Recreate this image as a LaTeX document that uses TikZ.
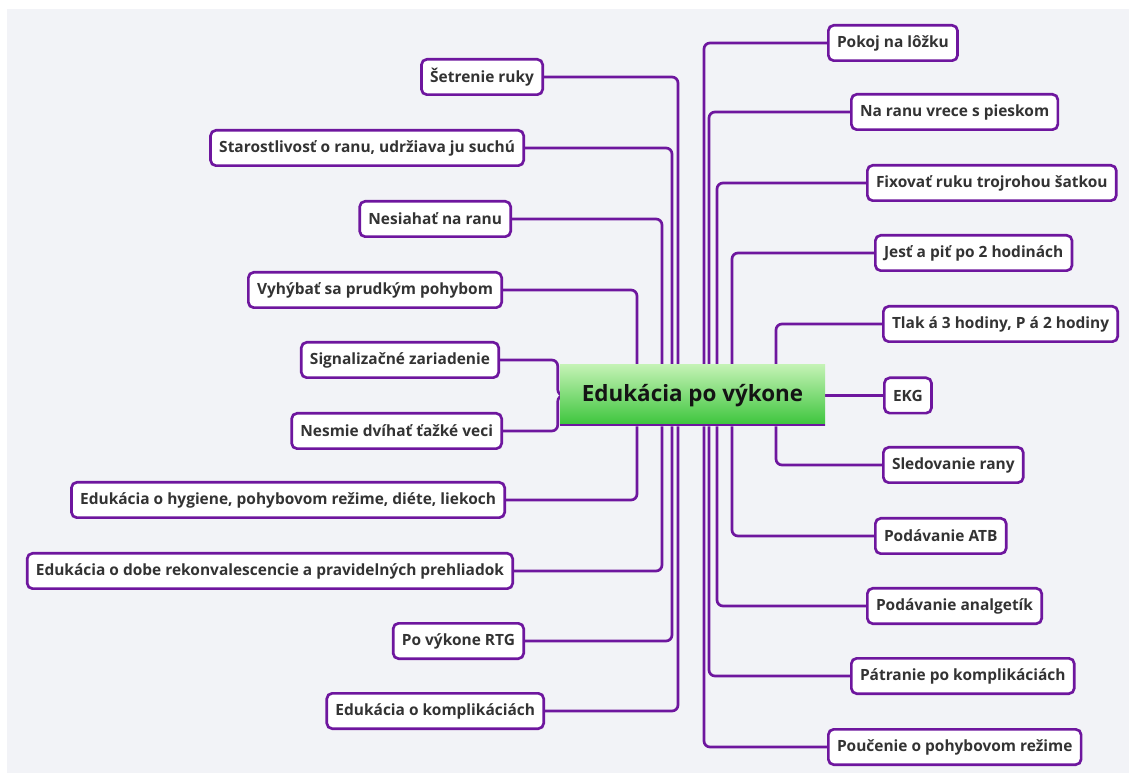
\documentclass[tikz,border=0pt]{standalone}
\usepackage{fontspec}
\setmainfont{Open Sans}
\usetikzlibrary{backgrounds,calc,positioning}
\definecolor{mmpurple}{RGB}{110,22,158}
\definecolor{mmgray}{RGB}{242,243,247}
\definecolor{mmtext}{RGB}{51,51,51}
\definecolor{mmgreentop}{RGB}{195,242,180}
\definecolor{mmgreenbot}{RGB}{58,196,58}

\begin{document}
\begin{tikzpicture}[x=0.75pt,y=-0.75pt,
	topic/.style={draw=mmpurple,line width=2pt,fill=white,rounded corners=4pt,minimum height=26.5pt,inner xsep=6.5pt,text=mmtext,font=\fontsize{11.6}{13}\selectfont\bfseries},
	root/.style={top color=mmgreentop,bottom color=mmgreenbot,minimum width=198.75pt,minimum height=45.75pt,text=black!92,font=\fontsize{16.8}{20}\selectfont\bfseries,
		path picture={\draw[mmpurple,line width=3pt] (path picture bounding box.south west) -- (path picture bounding box.south east);}},
	link/.style={draw=mmpurple,line width=2pt,rounded corners=4.5pt}]
	\useasboundingbox (0,0) rectangle (1129,773);

	\node[root] (root) at (692.5,395.5) {Edukácia po výkone};

	\node[topic,anchor=east] (l1) at (544,77) {Šetrenie ruky};
	\node[topic,anchor=east] (l2) at (525,148) {Starostlivosť o ranu, udržiava ju suchú};
	\node[topic,anchor=east] (l3) at (512,219) {Nesiahať na ranu};
	\node[topic,anchor=east] (l4) at (503,290) {Vyhýbať sa prudkým pohybom};
	\node[topic,anchor=east] (l5) at (500,360) {Signalizačné zariadenie};
	\node[topic,anchor=east] (l6) at (503,431) {Nesmie dvíhať ťažké veci};
	\node[topic,anchor=east] (l7) at (506,500) {Edukácia o hygiene, pohybovom režime, diéte, liekoch};
	\node[topic,anchor=east] (l8) at (514,571) {Edukácia o dobe rekonvalescencie a pravidelných prehliadok};
	\node[topic,anchor=east] (l9) at (525,641) {Po výkone RTG};
	\node[topic,anchor=east] (l10) at (545,711) {Edukácia o komplikáciách};

	\node[topic,anchor=west] (r1) at (827,43) {Pokoj na lôžku};
	\node[topic,anchor=west] (r2) at (850,112) {Na ranu vrece s pieskom};
	\node[topic,anchor=west] (r3) at (866,183) {Fixovať ruku trojrohou šatkou};
	\node[topic,anchor=west] (r4) at (874,253) {Jesť a piť po 2 hodinách};
	\node[topic,anchor=west] (r5) at (882,324) {Tlak á 3 hodiny, P á 2 hodiny};
	\node[topic,anchor=west] (r6) at (883,395.5) {EKG};
	\node[topic,anchor=west] (r7) at (882,465) {Sledovanie rany};
	\node[topic,anchor=west] (r8) at (874,536) {Podávanie ATB};
	\node[topic,anchor=west] (r9) at (866,606) {Podávanie analgetík};
	\node[topic,anchor=west] (r10) at (850,676) {Pátranie po komplikáciách};
	\node[topic,anchor=west] (r11) at (827,747) {Poučenie o pohybovom režime};

	\begin{scope}[on background layer]
		\fill[mmgray] (7,9) rectangle (1129,773);

		\draw[link] (l1.east) -| ($(root.north)+(-14.5,0)$);
		\draw[link] (l2.east) -| ($(root.north)+(-20.5,0)$);
		\draw[link] (l3.east) -| ($(root.north)+(-30.5,0)$);
		\draw[link] (l4.east) -| ($(root.north)+(-55.5,0)$);
		\draw[link] (l5.east) -| ($(root.west)+(-2,0)$) -- (root.west);
		\draw[link] (l6.east) -| ($(root.west)+(-2,0)$) -- (root.west);
		\draw[link] (l7.east) -| ($(root.south)+(-55.5,0)$);
		\draw[link] (l8.east) -| ($(root.south)+(-30.5,0)$);
		\draw[link] (l9.east) -| ($(root.south)+(-20.5,0)$);
		\draw[link] (l10.east) -| ($(root.south)+(-14.5,0)$);

		\draw[link] (r1.west) -| ($(root.north)+(11.5,0)$);
		\draw[link] (r2.west) -| ($(root.north)+(16.5,0)$);
		\draw[link] (r3.west) -| ($(root.north)+(24.5,0)$);
		\draw[link] (r4.west) -| ($(root.north)+(39.5,0)$);
		\draw[link] (r5.west) -| ($(root.north)+(83.5,0)$);
		\draw[link] (root.east) -- (r6.west);
		\draw[link] (r7.west) -| ($(root.south)+(83.5,0)$);
		\draw[link] (r8.west) -| ($(root.south)+(39.5,0)$);
		\draw[link] (r9.west) -| ($(root.south)+(24.5,0)$);
		\draw[link] (r10.west) -| ($(root.south)+(16.5,0)$);
		\draw[link] (r11.west) -| ($(root.south)+(11.5,0)$);
	\end{scope}
\end{tikzpicture}
\end{document}
